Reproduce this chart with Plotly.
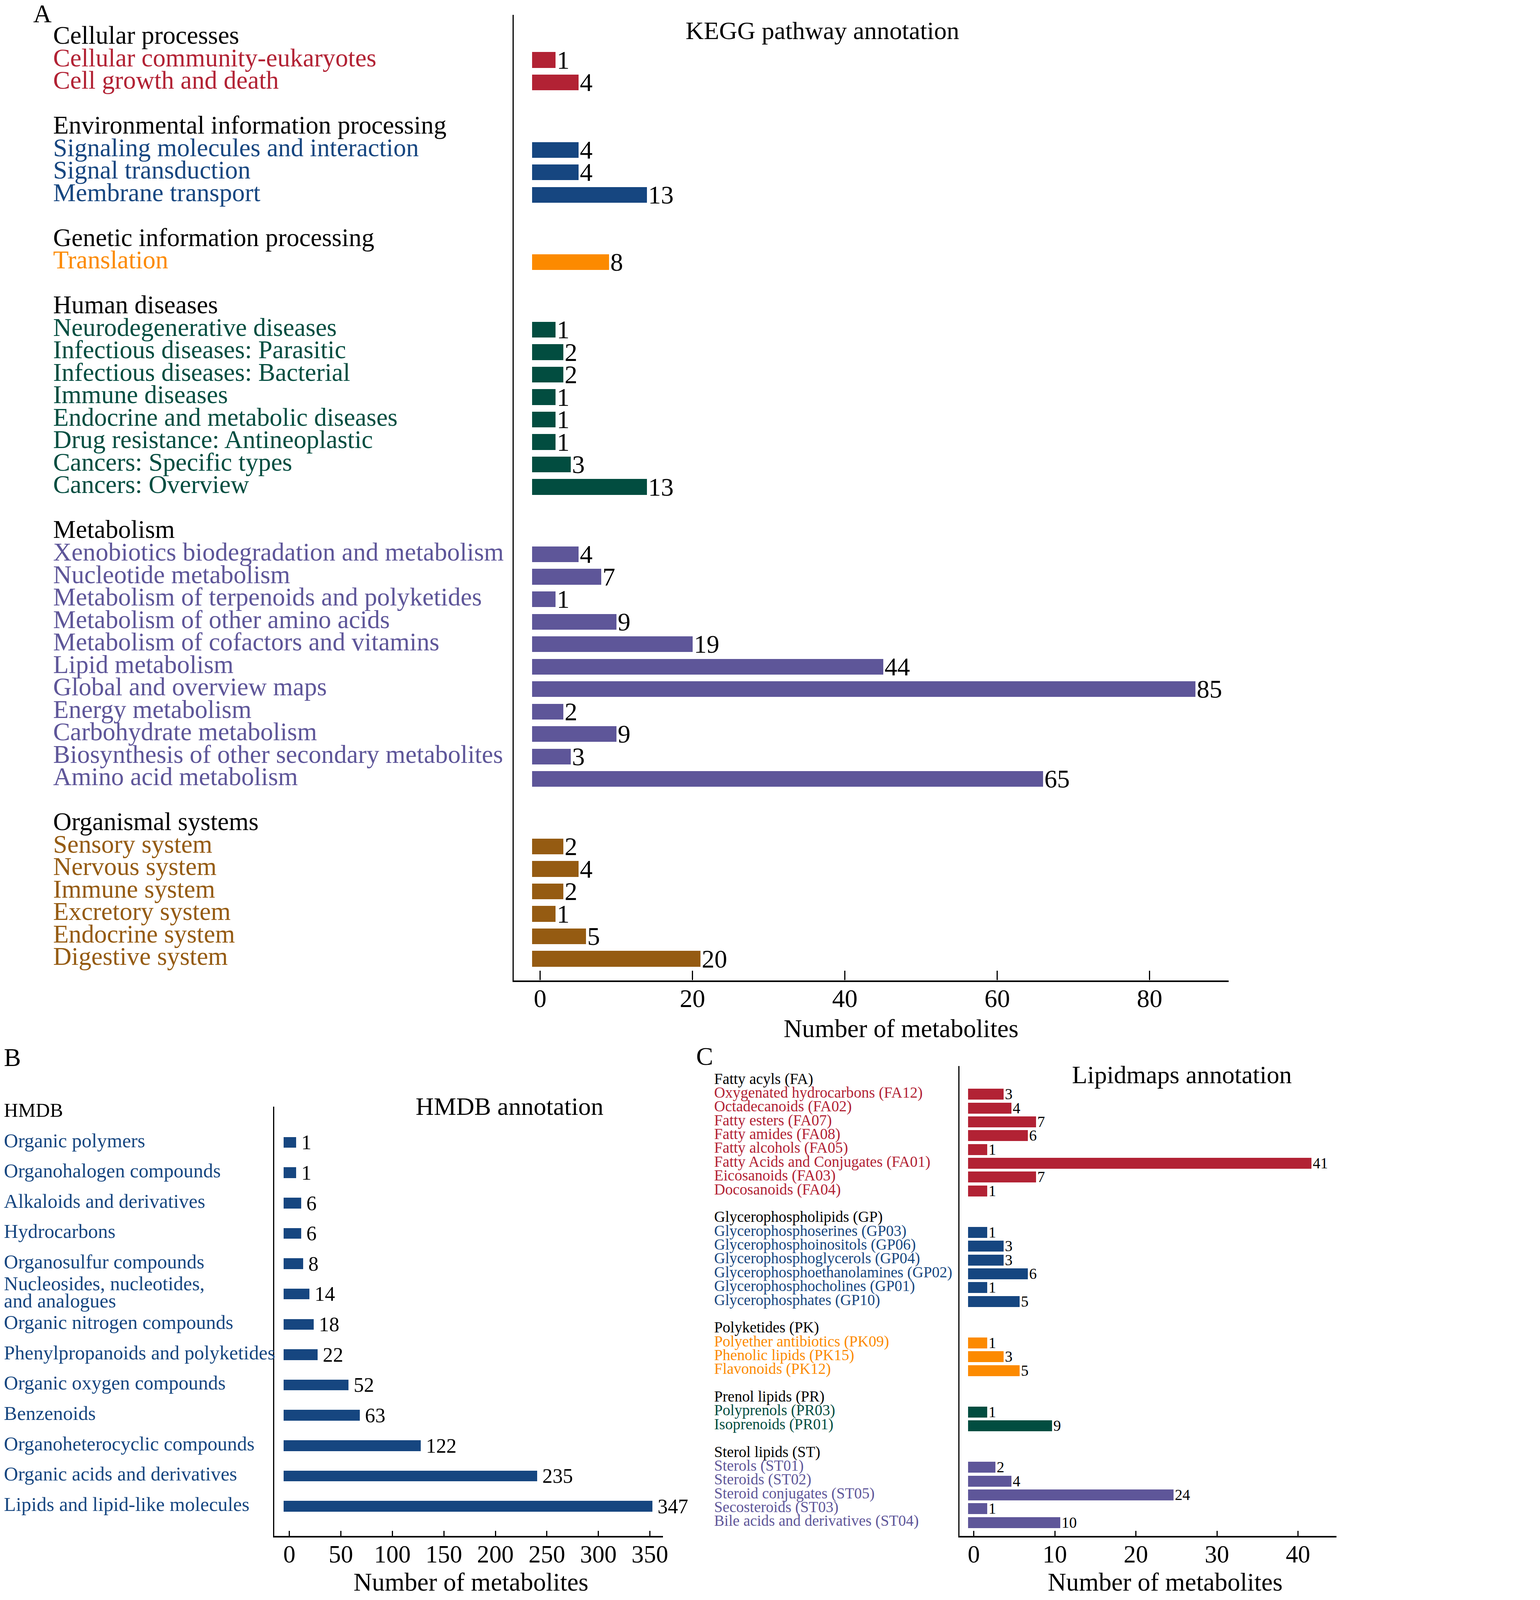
import plotly.graph_objects as go

# ---- data: KEGG pathway annotation (panel A) ----
kegg_headings = ["Cellular processes", "Environmental information processing",
                 "Genetic information processing", "Human diseases",
                 "Metabolism", "Organismal systems"]
kegg_cellular = ["Cellular community-eukaryotes", "Cell growth and death"]
kegg_cellular_n = [1, 4]
kegg_environ = ["Signaling molecules and interaction", "Signal transduction", "Membrane transport"]
kegg_environ_n = [4, 4, 13]
kegg_genetic = ["Translation"]
kegg_genetic_n = [8]
kegg_disease = ["Neurodegenerative diseases", "Infectious diseases: Parasitic",
                "Infectious diseases: Bacterial", "Immune diseases",
                "Endocrine and metabolic diseases", "Drug resistance: Antineoplastic",
                "Cancers: Specific types", "Cancers: Overview"]
kegg_disease_n = [1, 2, 2, 1, 1, 1, 3, 13]
kegg_metab = ["Xenobiotics biodegradation and metabolism", "Nucleotide metabolism",
              "Metabolism of terpenoids and polyketides", "Metabolism of other amino acids",
              "Metabolism of cofactors and vitamins", "Lipid metabolism",
              "Global and overview maps", "Energy metabolism", "Carbohydrate metabolism",
              "Biosynthesis of other secondary metabolites", "Amino acid metabolism"]
kegg_metab_n = [4, 7, 1, 9, 19, 44, 85, 2, 9, 3, 65]
kegg_organism = ["Sensory system", "Nervous system", "Immune system",
                 "Excretory system", "Endocrine system", "Digestive system"]
kegg_organism_n = [2, 4, 2, 1, 5, 20]
kegg_ticks = [0, 20, 40, 60, 80]

# ---- data: HMDB annotation (panel B) ----
hmdb_heading = "HMDB"
hmdb_classes = ["Organic polymers", "Organohalogen compounds", "Alkaloids and derivatives",
                "Hydrocarbons", "Organosulfur compounds",
                "Nucleosides, nucleotides,\nand analogues", "Organic nitrogen compounds",
                "Phenylpropanoids and polyketides", "Organic oxygen compounds", "Benzenoids",
                "Organoheterocyclic compounds", "Organic acids and derivatives",
                "Lipids and lipid-like molecules"]
hmdb_n = [1, 1, 6, 6, 8, 14, 18, 22, 52, 63, 122, 235, 347]
hmdb_ticks = [0, 50, 100, 150, 200, 250, 300, 350]

# ---- data: Lipidmaps annotation (panel C) ----
lipid_headings = ["Fatty acyls (FA)", "Glycerophospholipids (GP)", "Polyketides (PK)",
                  "Prenol lipids (PR)", "Sterol lipids (ST)"]
lipid_fa = ["Oxygenated hydrocarbons (FA12)", "Octadecanoids (FA02)", "Fatty esters (FA07)",
            "Fatty amides (FA08)", "Fatty alcohols (FA05)", "Fatty Acids and Conjugates (FA01)",
            "Eicosanoids (FA03)", "Docosanoids (FA04)"]
lipid_fa_n = [3, 4, 7, 6, 1, 41, 7, 1]
lipid_gp = ["Glycerophosphoserines (GP03)", "Glycerophosphoinositols (GP06)",
            "Glycerophosphoglycerols (GP04)", "Glycerophosphoethanolamines (GP02)",
            "Glycerophosphocholines (GP01)", "Glycerophosphates (GP10)"]
lipid_gp_n = [1, 3, 3, 6, 1, 5]
lipid_pk = ["Polyether antibiotics (PK09)", "Phenolic lipids (PK15)", "Flavonoids (PK12)"]
lipid_pk_n = [1, 3, 5]
lipid_pr = ["Polyprenols (PR03)", "Isoprenoids (PR01)"]
lipid_pr_n = [1, 9]
lipid_st = ["Sterols (ST01)", "Steroids (ST02)", "Steroid conjugates (ST05)",
            "Secosteroids (ST03)", "Bile acids and derivatives (ST04)"]
lipid_st_n = [2, 4, 24, 1, 10]
lipid_ticks = [0, 10, 20, 30, 40]

RED, BLUE, ORANGE = "#B22234", "#164680", "#FC8A00"
GREEN, PURPLE, BROWN = "#024D40", "#5E5699", "#955B12"
FONT = "Liberation Serif"

# reference picture size; the page renders 1.15x larger, so size everything down
W, H = 3942, 4705
S = 1 / 1.15


def px(x):
    return x / W


def py(y):
    return 1 - y / H


def sz(v):
    return v * S


def build_rows(groups):
    # heading row, one row per item, then a blank spacer row
    heads, items = [], []
    r = 0
    for heading, labels, counts, color in groups:
        heads.append((r, heading))
        r += 1
        for lab, n in zip(labels, counts):
            items.append((r, lab, n, color))
            r += 1
        r += 1
    return heads, items


def note(text, x, y, yref, size, color="black", anchor="left"):
    # text box sits a little low in the browser, nudge it up a tenth of an em
    return dict(x=x, y=y, xref="paper", yref=yref, text=text,
                xanchor=anchor, yanchor="middle", showarrow=False,
                yshift=sz(0.1 * size),
                font=dict(family=FONT, size=sz(size), color=color))


panels = [
    dict(
        groups=[(kegg_headings[0], kegg_cellular, kegg_cellular_n, RED),
                (kegg_headings[1], kegg_environ, kegg_environ_n, BLUE),
                (kegg_headings[2], kegg_genetic, kegg_genetic_n, ORANGE),
                (kegg_headings[3], kegg_disease, kegg_disease_n, GREEN),
                (kegg_headings[4], kegg_metab, kegg_metab_n, PURPLE),
                (kegg_headings[5], kegg_organism, kegg_organism_n, BROWN)],
        ax="", xdom=[px(1509), px(3621)], xrange=[-3.45, 90.37],
        ydom=[py(2877), py(35)], yrange=[41.95, -1.01],
        ticks=kegg_ticks, ticklen=28, tickfs=75, standoff=-14,
        pad=1.05, width=0.70, prefix="",
        lab_x=px(145), lab_fs=75, val_fs=75,
        title="KEGG pathway annotation", title_xy=(2421, 89),
        xtitle_xy=(2653, 3027), letter="A", letter_xy=(86, 39)),
    dict(
        groups=[(hmdb_heading, hmdb_classes, hmdb_n, BLUE)],
        ax="2", xdom=[px(801), px(1950)], xrange=[-14.7, 362.8],
        ydom=[py(4513), py(3249)], yrange=[13.98, -0.18],
        ticks=hmdb_ticks, ticklen=15, tickfs=72, standoff=-11,
        pad=5.5, width=0.355, prefix="\u2009",
        lab_x=px(0), lab_fs=58, val_fs=60,
        title="HMDB annotation", title_xy=(1497, 3256),
        xtitle_xy=(1382, 4656), letter="B", letter_xy=(0, 3112)),
    dict(
        groups=[(lipid_headings[0], lipid_fa, lipid_fa_n, RED),
                (lipid_headings[1], lipid_gp, lipid_gp_n, BLUE),
                (lipid_headings[2], lipid_pk, lipid_pk_n, ORANGE),
                (lipid_headings[3], lipid_pr, lipid_pr_n, GREEN),
                (lipid_headings[4], lipid_st, lipid_st_n, PURPLE)],
        ax="3", xdom=[px(2826), px(3940)], xrange=[-1.754, 44.76],
        ydom=[py(4513), py(3129)], yrange=[32.98, -1.04],
        ticks=lipid_ticks, ticklen=15, tickfs=72, standoff=-11,
        pad=0.68, width=0.79, prefix="",
        lab_x=px(2099), lab_fs=45, val_fs=45,
        title="Lipidmaps annotation", title_xy=(3483, 3163),
        xtitle_xy=(3434, 4656), letter="C", letter_xy=(2046, 3108)),
]

fig = go.Figure()
annotations = []
layout = {}

for p in panels:
    heads, items = build_rows(p["groups"])
    rows = [it[0] for it in items]
    counts = [it[2] for it in items]
    pad = p["pad"]
    fig.add_trace(go.Bar(
        y=rows, x=[n + 2 * pad for n in counts], base=-pad, orientation="h",
        width=p["width"], marker=dict(color=[it[3] for it in items], line_width=0),
        text=[p["prefix"] + str(n) for n in counts], textposition="outside",
        outsidetextfont=dict(family=FONT, size=sz(p["val_fs"]), color="black"),
        constraintext="none", cliponaxis=False, showlegend=False,
        xaxis="x" + p["ax"], yaxis="y" + p["ax"], hoverinfo="skip"))

    yref = "y" + p["ax"]
    for r, text in heads:
        annotations.append(note(text, p["lab_x"], r, yref, p["lab_fs"]))
    for r, lab, n, color in items:
        lines = lab.split("\n")
        for i, line in enumerate(lines):
            annotations.append(note(line, p["lab_x"], r + (i - (len(lines) - 1) / 2) * 0.57,
                                    yref, p["lab_fs"], color))

    annotations.append(note(p["title"], px(p["title_xy"][0]), py(p["title_xy"][1]),
                            "paper", 74, anchor="center"))
    annotations.append(note("Number of metabolites", px(p["xtitle_xy"][0]),
                            py(p["xtitle_xy"][1]), "paper", 75, anchor="center"))
    annotations.append(note(p["letter"], px(p["letter_xy"][0]), py(p["letter_xy"][1]),
                            "paper", 75))

    layout["xaxis" + p["ax"]] = dict(
        domain=p["xdom"], range=p["xrange"], anchor="y" + p["ax"],
        showline=True, linewidth=sz(5), linecolor="black", showgrid=False, zeroline=False,
        ticks="inside", ticklen=sz(p["ticklen"]), tickwidth=sz(3), tickcolor="black",
        tickvals=p["ticks"], ticklabelstandoff=p["standoff"],
        tickfont=dict(family=FONT, size=sz(p["tickfs"]), color="black"))
    layout["yaxis" + p["ax"]] = dict(
        domain=p["ydom"], range=p["yrange"], anchor="x" + p["ax"],
        showline=True, linewidth=sz(3), linecolor="black", showgrid=False, zeroline=False,
        showticklabels=False, ticks="")

fig.update_layout(
    width=round(W * S), height=round(H * S), margin=dict(l=0, r=0, t=0, b=0),
    paper_bgcolor="white", plot_bgcolor="white",
    font=dict(family=FONT, color="black"),
    annotations=annotations, bargap=0, **layout)

fig.write_html("out.html")
